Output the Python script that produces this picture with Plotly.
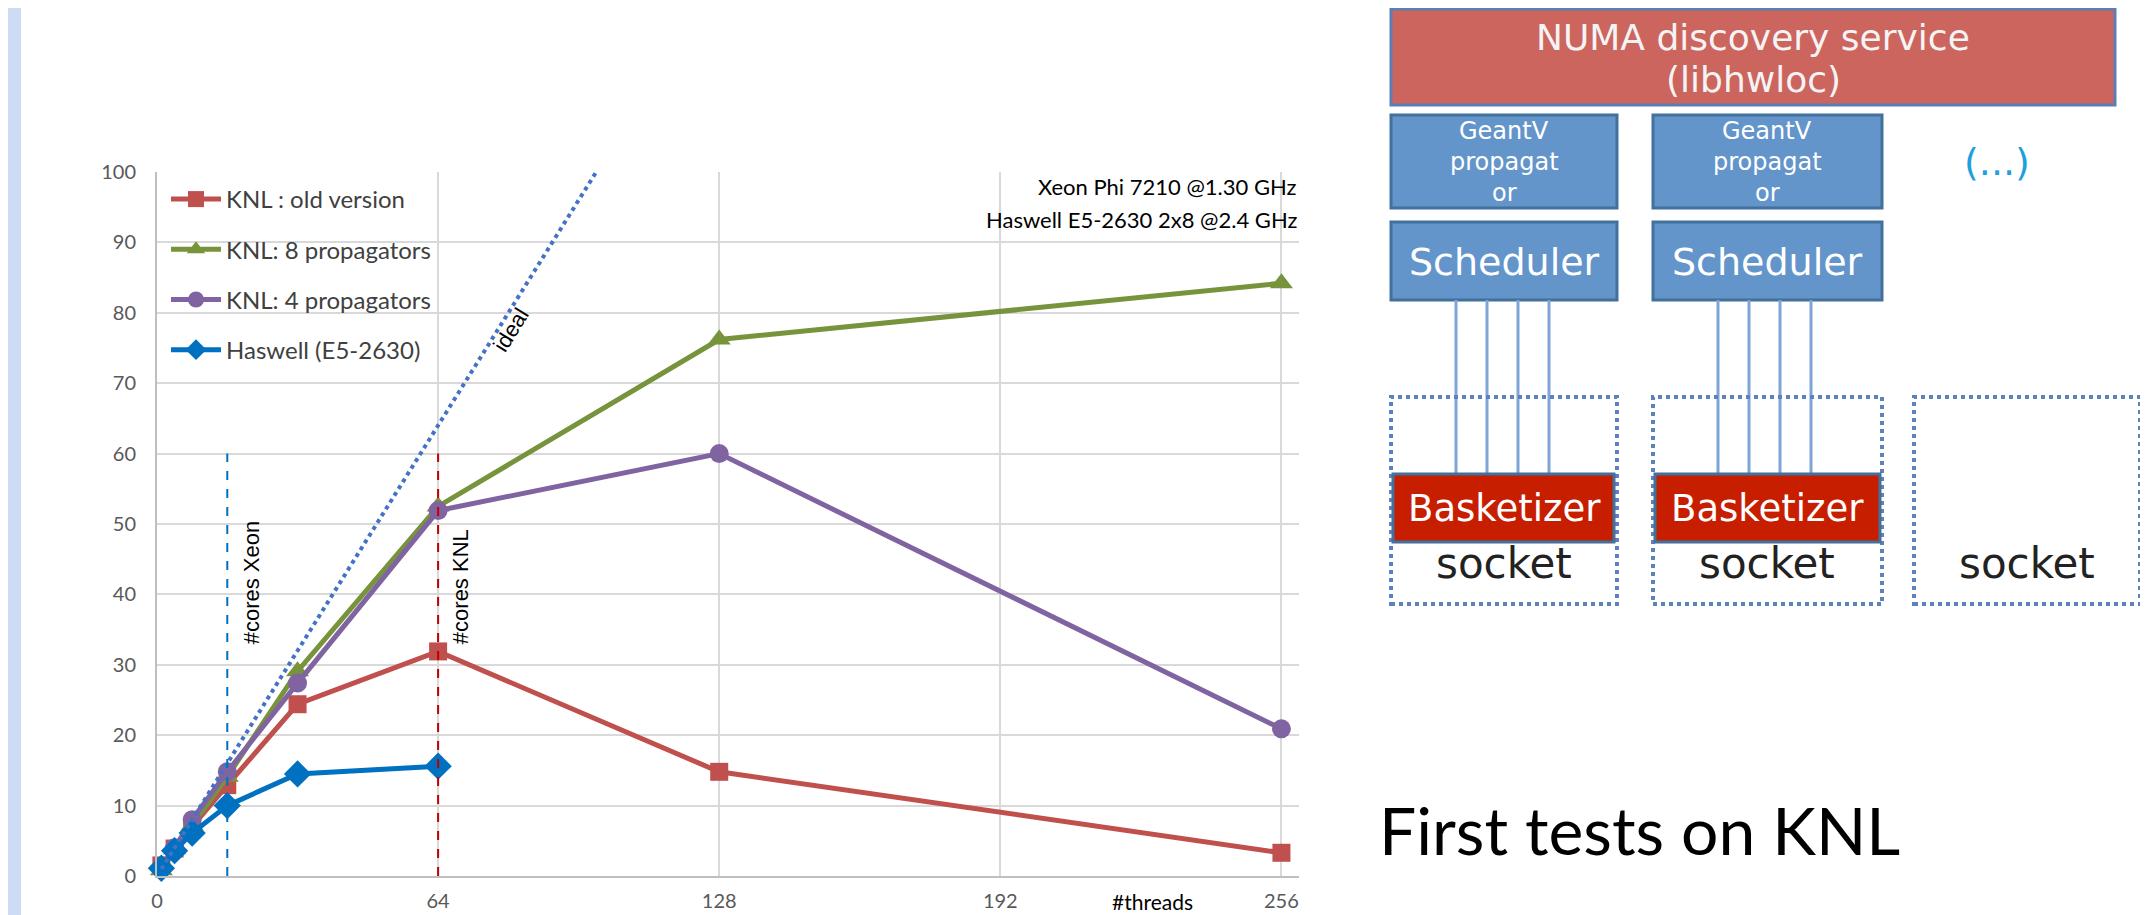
import plotly.graph_objects as go

# page is 2148x915; the html body keeps an 8 px margin round the figure
OFF = 8
W, H = 2148 - OFF, 915 - OFF

# speed-up vs number of threads
threads = [1, 4, 8, 16, 32, 64, 128, 256]
knl_old = [1.5, 3.9, 7.0, 12.9, 24.4, 31.9, 14.8, 3.3]
knl_8prop = [0.8, 3.8, 7.2, 14.1, 29.1, 52.5, 76.2, 84.2]
knl_4prop = [1.0, 4.0, 8.0, 14.8, 27.4, 51.9, 60.0, 20.9]
haswell_threads = [1, 4, 8, 16, 32, 64]
haswell = [1.1, 3.6, 6.1, 10.0, 14.5, 15.6]

ideal_threads = [1, 100]
ideal_speedup = [1, 100]

xeon_cores = 16
knl_cores = 64
core_line_top = 60

x_ticks = [0, 64, 128, 192, 256]
y_ticks = [0, 10, 20, 30, 40, 50, 60, 70, 80, 90, 100]

CAL = "Lato, Calibri, sans-serif"
ARIAL = "Liberation Sans, Arial, sans-serif"
GOTH = "DejaVu Sans, sans-serif"


def px(x):
    return (x - OFF) / W


def py(y):
    return 1 - (y - OFF) / H


fig = go.Figure()

series = [
    ("KNL : old version", threads, knl_old, "#C0504D", "square", 18),
    ("KNL: 8 propagators", threads, knl_8prop, "#77933C", "triangle-up", 20),
    ("KNL: 4 propagators", threads, knl_4prop, "#8064A2", "circle", 19),
    ("Haswell (E5-2630)", haswell_threads, haswell, "#0070C0", "diamond", 21),
]
for name, xs, ys, color, symbol, size in series:
    fig.add_trace(go.Scatter(
        x=xs, y=ys, mode="lines+markers", name=name, legendgroup=name,
        line=dict(color=color, width=5),
        marker=dict(symbol=symbol, size=size, color=color),
        cliponaxis=False,
    ))

fig.add_trace(go.Scatter(
    x=ideal_threads, y=ideal_speedup, mode="lines", showlegend=False,
    line=dict(color="#4472C4", width=4, dash="dot"),
))
fig.add_trace(go.Scatter(
    x=[xeon_cores, xeon_cores], y=[0, core_line_top], mode="lines", showlegend=False,
    line=dict(color="#0070C0", width=2, dash="dash"),
))
fig.add_trace(go.Scatter(
    x=[knl_cores, knl_cores], y=[0, core_line_top], mode="lines", showlegend=False,
    line=dict(color="#C00000", width=2, dash="dash"),
))

annotations = [
    dict(x=xeon_cores + 5.6, y=41.7, text="#cores Xeon", textangle=-90),
    dict(x=knl_cores + 5.1, y=41.1, text="#cores KNL", textangle=-90),
    dict(x=80.5, y=77.5, text="ideal", textangle=-58),
]
for a in annotations:
    a.update(xref="x", yref="y", showarrow=False, font=dict(family=ARIAL, size=22, color="black"))

text_items = [
    (1299, 186, "Xeon Phi 7210 @1.30 GHz", 22, "right", "black", CAL),
    (1299, 219, "Haswell E5-2630 2x8 @2.4 GHz", 22, "right", "black", CAL),
    (1152, 901, "#threads", 21, "center", "black", CAL),
    (1377, 829, "First tests on KNL", 66, "left", "black", CAL),
    (1753, 37, "NUMA discovery service", 36, "center", "#f4f4f4", GOTH),
    (1753, 79, "(libhwloc)", 36, "center", "#f4f4f4", GOTH),
    (1997, 162, "(...)", 38, "center", "#1ea0dc", GOTH),
]
for cx in (1504, 1767):
    text_items += [
        (cx, 131, "GeantV", 24, "center", "white", GOTH),
        (cx, 162, "propagat", 24, "center", "white", GOTH),
        (cx, 193, "or", 24, "center", "white", GOTH),
        (cx, 262, "Scheduler", 38, "center", "white", GOTH),
        (cx, 508, "Basketizer", 37, "center", "white", GOTH),
        (cx, 563, "socket", 42, "center", "#222222", GOTH),
    ]
text_items.append((2027, 563, "socket", 42, "center", "#222222", GOTH))

for x, y, t, size, anchor, color, fam in text_items:
    annotations.append(dict(
        x=px(x), y=py(y), xref="paper", yref="paper", text=t, showarrow=False,
        xanchor=anchor, yanchor="middle", font=dict(family=fam, size=size, color=color),
    ))


def box(x0, y0, x1, y1, fill, line):
    return dict(type="rect", xref="paper", yref="paper",
                x0=px(x0), x1=px(x1), y0=py(y1), y1=py(y0),
                fillcolor=fill, line=line, layer="below")


shapes = [
    # slide left edge band
    box(OFF, OFF, 21, 915, "#cddcf4", dict(width=0)),
    # NUMA box
    box(1391, 9, 2115, 105, "#cd655f", dict(color="#5b7fb5", width=3)),
]
for x0, x1 in ((1391, 1617), (1653, 1882)):
    shapes += [
        box(x0, 115, x1, 208, "#6395cb", dict(color="#41719c", width=3)),
        box(x0, 222, x1, 300, "#6395cb", dict(color="#41719c", width=3)),
    ]
    for k in range(4):
        lx = x0 + 65 + k * 31
        shapes.append(dict(type="line", xref="paper", yref="paper",
                           x0=px(lx), x1=px(lx), y0=py(476), y1=py(300),
                           line=dict(color="#7ea4d8", width=3), layer="below"))
for x0, x1 in ((1391, 1617), (1653, 1882), (1914, 2140)):
    shapes.append(box(x0, 397, x1, 604, "rgba(0,0,0,0)", dict(color="#5d82b8", width=4, dash="dot")))
for x0, x1 in ((1393, 1614), (1655, 1880)):
    shapes.append(box(x0, 474, x1, 542, "#c81e00", dict(color="#41719c", width=3)))

axis_font = dict(family=CAL, size=20, color="#595959")
fig.update_layout(
    width=W, height=H,
    margin=dict(l=0, r=0, t=0, b=0, autoexpand=False),
    paper_bgcolor="white", plot_bgcolor="white",
    xaxis=dict(
        domain=[px(157), px(1299)], range=[0, 260], automargin=False,
        tickvals=x_ticks, ticks="", tickfont=axis_font, ticklabelstandoff=6,
        showgrid=True, gridcolor="#d9d9d9", gridwidth=2,
        zeroline=False, showline=True, linecolor="#bfbfbf", linewidth=2,
    ),
    yaxis=dict(
        domain=[py(876), py(172)], range=[0, 100], automargin=False,
        tickvals=y_ticks, ticks="", tickfont=axis_font, ticklabelstandoff=15,
        showgrid=True, gridcolor="#d9d9d9", gridwidth=2,
        zeroline=False, showline=True, linecolor="#bfbfbf", linewidth=2,
    ),
    legend=dict(
        x=px(166), y=py(177), xanchor="left", yanchor="top",
        bgcolor="rgba(255,255,255,0)", font=dict(family=CAL, size=24, color="#404040"),
        itemwidth=50, tracegroupgap=16,
    ),
    showlegend=True,
    annotations=annotations,
    shapes=shapes,
)

fig.write_html("out.html")
